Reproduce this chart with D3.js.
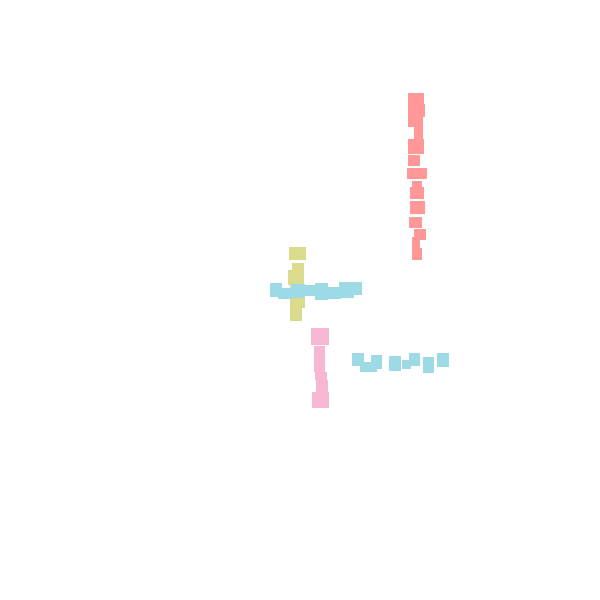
<!DOCTYPE html>
<html>
<head>
<meta charset="utf-8">
<script src="https://cdn.jsdelivr.net/npm/d3@7"></script>
<style>
  body { margin: 0; background: #fff; }
</style>
</head>
<body>
<svg></svg>
<script>
const width = 600;
const height = 600;

// each mark: [cx, cy, w, h] in data units
const redMarks = [
  [41.6, 9.9, 1.6, 1.2], [41.65, 11.05, 1.7, 1.3], [41.55, 12.1, 1.5, 1.2],
  [41.85, 13.3, 0.9, 1.4], [41.6, 14.65, 1.6, 1.5], [41.4, 16.05, 1.2, 1.1],
  [41.7, 17.35, 2.0, 1.1], [41.7, 18.45, 1.0, 0.7], [41.7, 19.3, 1.4, 1.2],
  [41.75, 20.75, 1.5, 1.3], [41.55, 22.25, 1.3, 1.1], [42.0, 23.45, 1.2, 1.1],
  [41.6, 24.35, 0.8, 1.3], [41.7, 25.4, 1.0, 1.2]
];
const oliveMarks = [
  [29.75, 25.35, 1.7, 1.3], [29.8, 26.95, 1.2, 1.3], [29.6, 27.75, 1.6, 1.5],
  [29.75, 29.65, 1.5, 2.3], [29.6, 31.3, 1.2, 1.6]
];
const cyanUpperMarks = [
  [27.6, 29.0, 1.2, 1.4], [28.55, 29.35, 1.5, 1.1], [29.8, 29.1, 1.4, 1.4],
  [30.8, 29.05, 1.6, 1.1], [32.15, 29.15, 1.3, 1.7], [33.3, 29.3, 1.6, 1.2],
  [34.65, 29.0, 1.5, 1.6], [35.4, 28.85, 1.6, 1.3]
];
const pinkMarks = [
  [32.0, 33.65, 1.8, 1.7], [31.95, 35.9, 1.1, 2.6], [32.1, 37.6, 1.2, 0.8],
  [32.2, 38.6, 1.2, 1.2], [32.05, 40.0, 1.7, 1.6]
];
const cyanLowerMarks = [
  [35.8, 35.95, 1.2, 1.3], [36.85, 36.7, 1.7, 1.0], [37.65, 36.2, 1.1, 1.4],
  [39.5, 36.35, 1.2, 1.5], [40.65, 36.45, 0.9, 0.9], [41.45, 35.95, 1.1, 1.3],
  [42.85, 36.5, 1.1, 1.6], [44.3, 36.0, 1.2, 1.4]
];

const series = [
  { marks: redMarks, color: '#ff9896' },
  { marks: oliveMarks, color: '#dbdb8d' },
  { marks: cyanUpperMarks, color: '#9edae5' },
  { marks: pinkMarks, color: '#f7b6d2' },
  { marks: cyanLowerMarks, color: '#9edae5' }
];

const svg = d3.select('svg')
  .attr('width', width)
  .attr('height', height);

const xScale = d3.scaleLinear().domain([0, 60]).range([0, width]);
const yScale = d3.scaleLinear().domain([0, 60]).range([0, height]);

series.forEach(s => {
  svg.append('g')
    .selectAll('rect')
    .data(s.marks)
    .enter()
    .append('rect')
    .attr('x', d => xScale(d[0] - d[2] / 2))
    .attr('y', d => yScale(d[1] - d[3] / 2))
    .attr('width', d => xScale(d[2]) - xScale(0))
    .attr('height', d => yScale(d[3]) - yScale(0))
    .attr('fill', s.color);
});
</script>
</body>
</html>
